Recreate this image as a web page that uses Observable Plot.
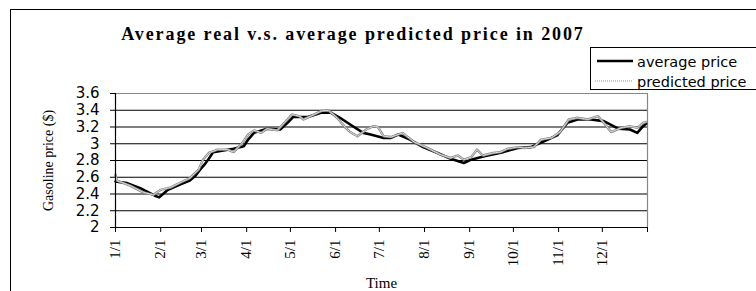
<!DOCTYPE html>
<html>
<head>
<meta charset="utf-8">
<script src="https://cdn.jsdelivr.net/npm/d3@7"></script>
<script src="https://cdn.jsdelivr.net/npm/@observablehq/plot@0.6"></script>
<style>
  html, body { margin: 0; padding: 0; background: #fff; }
  #wrap { position: relative; width: 756px; height: 291px; overflow: hidden; background: #fff; }
  #wrap > svg.plot { position: absolute; left: 0; top: 0; }
  #frame { position: absolute; left: 10px; top: 9px; width: 800px; height: 400px; border-left: 1px solid #000; border-top: 1px solid #000; }
  #title { position: absolute; left: 0; top: 24px; width: 706px; text-align: center; font-family: "Liberation Serif", serif; font-weight: bold; font-size: 18px; letter-spacing: 1.9px; color: #000; white-space: nowrap; }
  #legend { position: absolute; left: 590px; top: 47px; width: 175px; height: 41px; border: 1px solid #000; background: #fff; }
</style>
</head>
<body>
<div id="wrap">
  <div id="frame"></div>
  <div id="title">Average real v.s. average predicted price in 2007</div>
  <div id="legend"></div>
</div>
<script>
// ---- data ----
const avgDates = ["2007-01-01","2007-01-09","2007-01-18","2007-01-28","2007-01-31","2007-02-06","2007-02-15","2007-02-21","2007-02-25","2007-02-28","2007-03-03","2007-03-06","2007-03-09","2007-03-16","2007-03-23","2007-03-30","2007-04-02","2007-04-06","2007-04-15","2007-04-24","2007-04-29","2007-05-03","2007-05-13","2007-05-22","2007-05-29","2007-06-04","2007-06-11","2007-06-20","2007-06-25","2007-07-04","2007-07-09","2007-07-14","2007-07-22","2007-07-31","2007-08-10","2007-08-19","2007-08-28","2007-09-02","2007-09-11","2007-09-24","2007-10-04","2007-10-13","2007-10-22","2007-10-31","2007-11-07","2007-11-14","2007-11-23","2007-12-02","2007-12-12","2007-12-20","2007-12-25","2007-12-29","2007-12-31"];
const avgValues = [2.55,2.53,2.47,2.38,2.36,2.45,2.52,2.56,2.62,2.69,2.75,2.82,2.90,2.92,2.94,2.97,3.05,3.13,3.18,3.17,3.25,3.32,3.32,3.37,3.37,3.31,3.23,3.13,3.11,3.07,3.07,3.11,3.05,2.96,2.89,2.82,2.77,2.81,2.85,2.90,2.95,2.96,3.03,3.10,3.25,3.29,3.29,3.27,3.18,3.17,3.13,3.21,3.24];

const predDates = ["2007-01-01","2007-01-02","2007-01-11","2007-01-20","2007-01-27","2007-02-01","2007-02-08","2007-02-15","2007-02-21","2007-02-27","2007-03-02","2007-03-06","2007-03-12","2007-03-19","2007-03-23","2007-03-29","2007-04-02","2007-04-06","2007-04-11","2007-04-15","2007-04-22","2007-04-29","2007-05-02","2007-05-07","2007-05-10","2007-05-15","2007-05-22","2007-05-27","2007-06-02","2007-06-08","2007-06-11","2007-06-16","2007-06-22","2007-06-27","2007-06-30","2007-07-04","2007-07-09","2007-07-17","2007-07-25","2007-08-03","2007-08-12","2007-08-19","2007-08-24","2007-08-28","2007-09-02","2007-09-06","2007-09-10","2007-09-17","2007-09-22","2007-09-27","2007-10-04","2007-10-08","2007-10-15","2007-10-20","2007-10-27","2007-11-02","2007-11-08","2007-11-14","2007-11-21","2007-11-28","2007-12-02","2007-12-07","2007-12-14","2007-12-20","2007-12-25","2007-12-29","2007-12-31"];
const predValues = [2.63,2.56,2.50,2.42,2.39,2.45,2.48,2.54,2.59,2.69,2.81,2.89,2.93,2.93,2.90,3.01,3.11,3.16,3.13,3.18,3.16,3.29,3.35,3.33,3.29,3.33,3.39,3.40,3.31,3.19,3.14,3.09,3.17,3.21,3.20,3.09,3.08,3.13,3.02,2.95,2.87,2.83,2.86,2.81,2.84,2.93,2.86,2.89,2.90,2.94,2.96,2.95,2.96,3.05,3.07,3.14,3.29,3.31,3.29,3.33,3.25,3.14,3.19,3.21,3.19,3.25,3.26];

const yTicks = [2, 2.2, 2.4, 2.6, 2.8, 3, 3.2, 3.4, 3.6];
const yTickLabels = ["2","2.2","2.4","2.6","2.8","3","3.2","3.4","3.6"];
const monthTicks = ["2007-01-01","2007-02-01","2007-03-01","2007-04-01","2007-05-01","2007-06-01","2007-07-01","2007-08-01","2007-09-01","2007-10-01","2007-11-01","2007-12-01","2008-01-01"];
const monthLabels = ["1/1","2/1","3/1","4/1","5/1","6/1","7/1","8/1","9/1","10/1","11/1","12/1",""];
const seriesNames = ["average price", "predicted price"];
const title = "Average real v.s. average predicted price in 2007";
const yLabel = "Gasoline price ($)";
const xLabel = "Time";

// ---- build ----
const parse = s => new Date(s + "T00:00:00Z");
const avg = avgDates.map((d, i) => ({date: parse(d), value: avgValues[i]}));
const pred = predDates.map((d, i) => ({date: parse(d), value: predValues[i]}));
const mTicks = monthTicks.map(parse);
const xStart = mTicks[0], xEnd = mTicks[mTicks.length - 1];

const chart = Plot.plot({
  width: 756,
  height: 291,
  marginLeft: 115,
  marginRight: 109,
  marginTop: 93,
  marginBottom: 64,
  style: {background: "transparent", overflow: "visible"},
  x: {type: "utc", domain: [xStart, xEnd]},
  y: {domain: [2, 3.6]},
  marks: [
    Plot.ruleY(yTicks.slice(1, -1), {stroke: "#000", strokeWidth: 1.2}),
    Plot.ruleY([yTicks[yTicks.length - 1]], {stroke: "#888", strokeWidth: 1.2}),
    Plot.ruleX([xEnd], {stroke: "#888", strokeWidth: 1.2}),
    Plot.lineY(avg, {x: "date", y: "value", stroke: "#000", strokeWidth: 2.6}),
    Plot.lineY(pred, {x: "date", y: "value", stroke: "#8a8a8a", strokeWidth: 2.4}),
    Plot.lineY(pred, {x: "date", y: "value", stroke: "#e8e8e8", strokeWidth: 0.9, strokeDasharray: "2,1"}),
    Plot.ruleY([2], {stroke: "#000", strokeWidth: 1.2}),
    Plot.ruleX([xStart], {stroke: "#000", strokeWidth: 1.2}),
    Plot.axisY({
      ticks: yTicks,
      tickFormat: (d, i) => yTickLabels[i],
      tickSize: 5,
      tickPadding: 11,
      fontSize: 15,
      fontFamily: "DejaVu Sans",
      label: null
    }),
    Plot.axisX({
      ticks: mTicks,
      tickFormat: (d, i) => monthLabels[i],
      tickSize: 5,
      tickPadding: 7,
      tickRotate: -90,
      fontSize: 15,
      fontFamily: "Liberation Serif",
      label: null
    }),
    Plot.text([yLabel], {frameAnchor: "left", dx: -67, rotate: -90, textAnchor: "middle", fontSize: 14, fontFamily: "Liberation Serif", fill: "#000", text: d => d}),
    Plot.text([xLabel], {frameAnchor: "bottom", dy: 60, fontSize: 15, fontFamily: "Liberation Serif", fill: "#000", text: d => d})
  ]
});
chart.classList.add("plot");
const wrap = document.getElementById("wrap");
wrap.insertBefore(chart, document.getElementById("title"));

// legend
const leg = d3.select("#legend").append("svg").attr("width", 175).attr("height", 41);
leg.append("line").attr("x1", 6).attr("x2", 42).attr("y1", 13).attr("y2", 13).attr("stroke", "#000").attr("stroke-width", 2.5);
leg.append("line").attr("x1", 4).attr("x2", 42).attr("y1", 33).attr("y2", 33).attr("stroke", "#999").attr("stroke-width", 1).attr("stroke-dasharray", "1,1");
leg.append("text").attr("x", 46).attr("y", 19).attr("font-family", "DejaVu Sans").attr("font-size", 14.5).text(seriesNames[0]);
leg.append("text").attr("x", 46).attr("y", 39).attr("font-family", "DejaVu Sans").attr("font-size", 14.5).text(seriesNames[1]);
</script>
</body>
</html>
